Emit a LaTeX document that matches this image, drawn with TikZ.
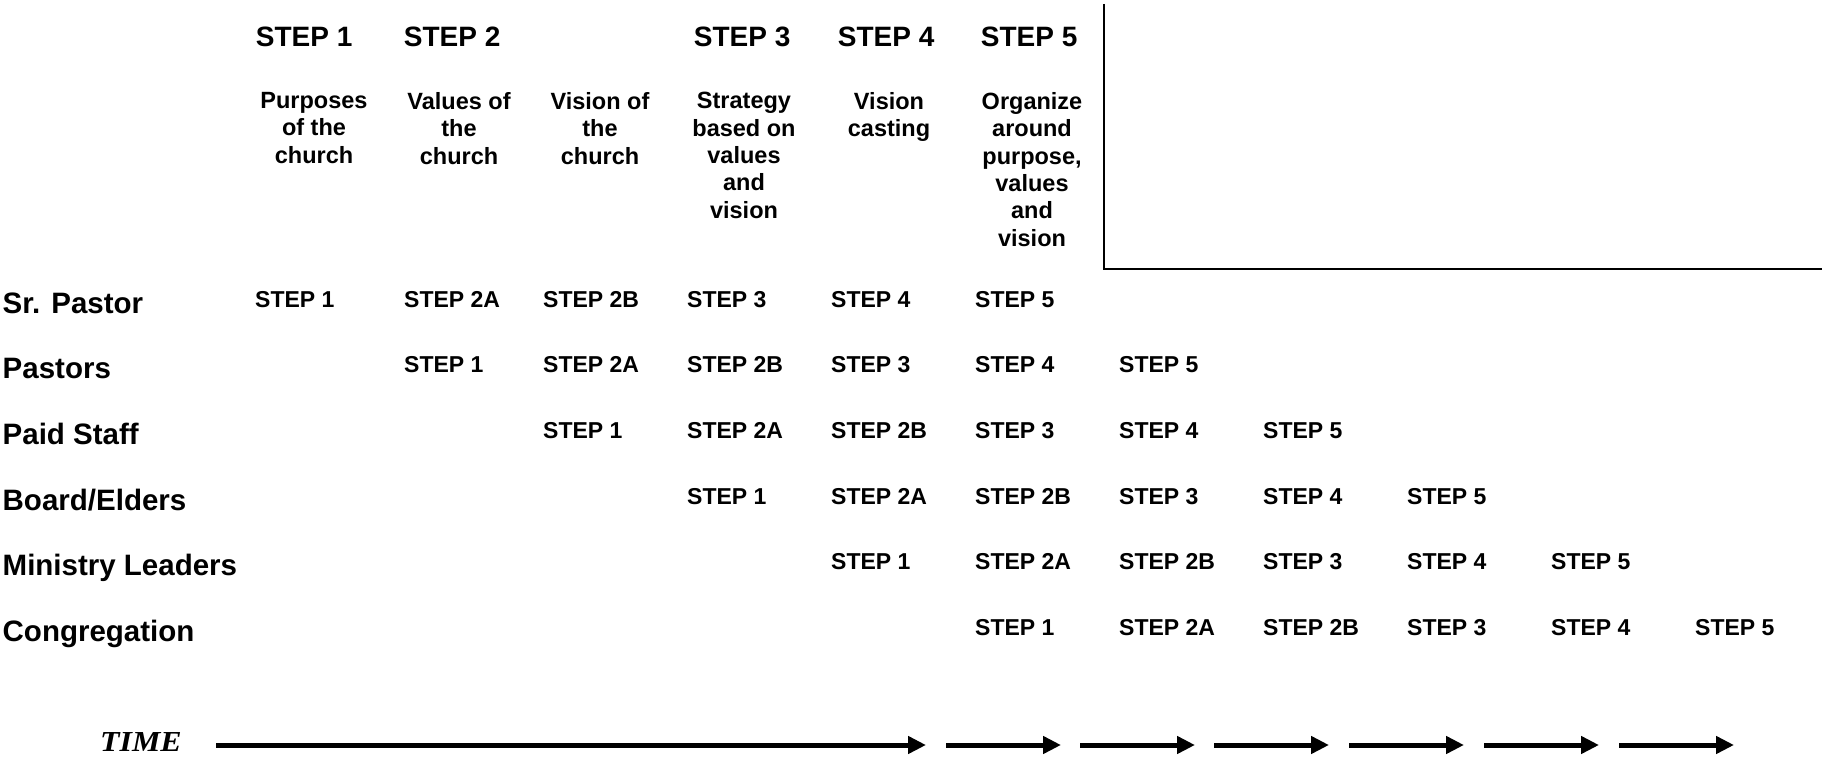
\documentclass[tikz,border=0pt]{standalone}
\usepackage{fontspec}
\setmainfont{Liberation Sans}
\newfontfamily\timesfont[FakeStretch=1.1]{Liberation Serif}
\usetikzlibrary{arrows.meta}
\begin{document}
\begin{tikzpicture}[x=1pt,y=-1pt,
  hdr/.style={font=\fontsize{28}{32}\selectfont\bfseries, anchor=base west, inner sep=0pt},
  desc/.style={font=\fontsize{23.5}{27.4}\selectfont\bfseries, align=center, anchor=north, inner sep=0pt},
  role/.style={font=\fontsize{29.5}{33}\selectfont\bfseries, anchor=base west, inner sep=0pt},
  cell/.style={font=\fontsize{23}{27}\selectfont\bfseries, anchor=base west, inner sep=0pt},
  timelabel/.style={font=\timesfont\fontsize{29}{33}\selectfont\bfseries\itshape, anchor=base west, inner sep=0pt},
  timearrow/.style={line width=5pt, -{Triangle[length=18pt,width=17pt]}},
  rulerline/.style={line width=2pt}]
\useasboundingbox (0,0) rectangle (1822,759);

% header steps
\node[hdr] (h1) at (255.7,46.7) {STEP 1};
\node[hdr] (h2) at (403.7,46.7) {STEP 2};
\node[hdr] (h3) at (693.7,46.7) {STEP 3};
\node[hdr] (h4) at (837.7,46.7) {STEP 4};
\node[hdr] (h5) at (980.7,46.7) {STEP 5};

% descriptions
\node[desc] (d1) at (314,92) {Purposes\\of the\\church};
\node[desc] (d2) at (459,92) {Values of\\the\\church};
\node[desc] (d3) at (600,92) {Vision of\\the\\church};
\node[desc] (d4) at (744,92) {Strategy\\based on\\values\\and\\vision};
\node[desc] (d5) at (889,92) {Vision\\casting};
\node[desc] (d6) at (1032,92) {Organize\\around\\purpose,\\values\\and\\vision};

% frame lines
\coordinate (vtop) at (1104,4);
\coordinate (hright) at (1822,269.5);
\draw[rulerline] (vtop) |- (hright);

% row labels
\node[role] (r0) at (2.5,313) {Sr. Pastor};
\node[role] (r1) at (2.5,378.7) {Pastors};
\node[role] (r2) at (2.5,444.4) {Paid Staff};
\node[role] (r3) at (2.5,510.1) {Board/Elders};
\node[role] (r4) at (2.5,575.8) {Ministry Leaders};
\node[role] (r5) at (2.5,641.5) {Congregation};

% cells
\foreach \r in {0,...,5} {
  \foreach \s [count=\k from 0] in {1,2A,2B,3,4,5} {
    \pgfmathtruncatemacro\c{\r+\k}
    \pgfmathsetmacro\xx{{255,404,543,687,831,975,1119,1263,1407,1551,1695}[\c]}
    \node[cell] (c\r-\k) at (\xx,{307+65.7*\r}) {STEP \s};
  }
}

% time axis
\node[timelabel] (time) at (100,751.5) {TIME};
\coordinate (a0s) at (216,745);  \coordinate (a0e) at (926,745);
\coordinate (a1s) at (946,745);  \coordinate (a1e) at (1061,745);
\coordinate (a2s) at (1080,745); \coordinate (a2e) at (1195,745);
\coordinate (a3s) at (1214,745); \coordinate (a3e) at (1329,745);
\coordinate (a4s) at (1349,745); \coordinate (a4e) at (1464,745);
\coordinate (a5s) at (1484,745); \coordinate (a5e) at (1599,745);
\coordinate (a6s) at (1619,745); \coordinate (a6e) at (1734,745);
\foreach \i in {0,...,6} {\draw[timearrow] (a\i s) -- (a\i e);}
\end{tikzpicture}
\end{document}
